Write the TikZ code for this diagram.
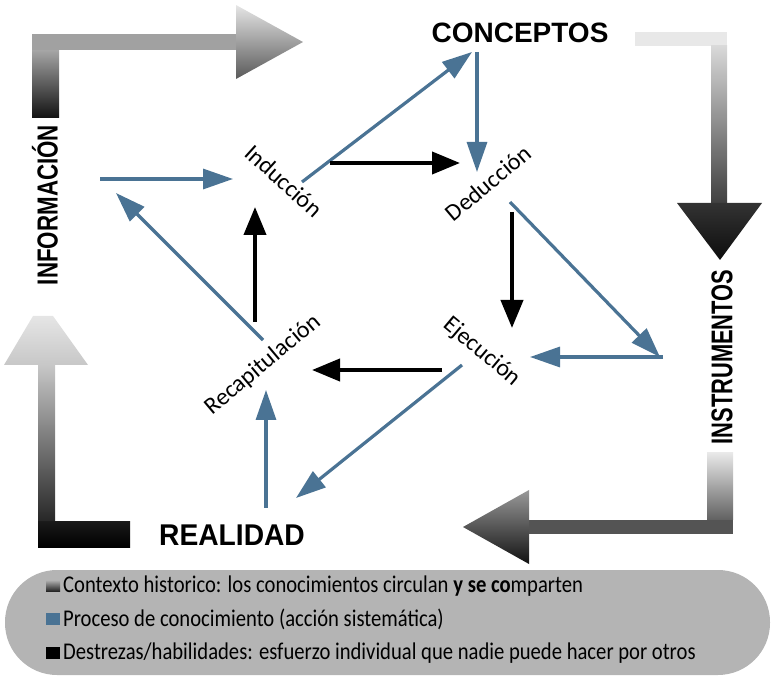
\documentclass[tikz,border=0pt]{standalone}
\usepackage{fontspec}
\setmainfont{Carlito}
\newfontfamily\heavy{Liberation Sans}
\newfontfamily\legfont[FakeStretch=0.86]{Carlito}
\usetikzlibrary{arrows.meta}
\definecolor{proc}{HTML}{4A7394}
\definecolor{legendgray}{HTML}{B4B4B4}
\newcommand{\bigword}[3]{\scalebox{#2}[1]{\fontsize{#1}{#1}\selectfont\heavy\bfseries #3}}
\begin{document}
\begin{tikzpicture}[x=1pt,y=-1pt,
  bigword/.style={inner sep=0pt},
  stage/.style={font=\fontsize{24}{24}\selectfont, inner sep=0pt},
  procarrow/.style={draw=proc, line width=3.2pt, -{Triangle[length=30pt,width=20pt]}},
  skillarrow/.style={draw=black, line width=4pt, -{Triangle[length=28pt,width=22pt]}},
  legtext/.style={font=\legfont\fontsize{24}{24}\selectfont, anchor=west, inner sep=0pt},
]
\useasboundingbox (0,0) rectangle (772,676);

% ---------- grey elbow arrows (context) ----------
% top-left: INFORMACION -> CONCEPTOS
\shade[top color=black!35, bottom color=black!93] (32,50) rectangle (59,118);
\fill[black!37] (32,34) rectangle (236,50);
\shade[top color=black!10, bottom color=black!65] (236,5) -- (303,42) -- (236,79) -- cycle;
% top-right: CONCEPTOS -> INSTRUMENTOS
\fill[black!9] (635,32) rectangle (727,46);
\shade[top color=black!15, bottom color=black!75] (711,46) rectangle (727,203);
\shade[top color=black!80, bottom color=black!95] (677,203) -- (762,203) -- (720,260) -- cycle;
% bottom-right: INSTRUMENTOS -> REALIDAD
\shade[top color=black!9, bottom color=black!62] (707,453) rectangle (733,520);
\fill[black!67] (529,520) rectangle (733,534);
\shade[top color=black!40, bottom color=black!93] (529,490) -- (463,527) -- (529,564) -- cycle;
% bottom-left: REALIDAD -> INFORMACION
\shade[top color=black!22, bottom color=black!85] (38,365) rectangle (55,522);
\shade[top color=black!90, bottom color=black] (38,522) rectangle (130,547);
\shade[top color=black!10, bottom color=black!22] (33,316) -- (53,316) -- (88,365) -- (4,365) -- cycle;

% ---------- big words ----------
\node[bigword] (concepts) at (520,33) {\bigword{28}{1.0}{CONCEPTOS}};
\node[bigword, rotate=90] (info) at (45,205) {\bigword{29}{0.77}{INFORMACIÓN}};
\node[bigword, rotate=90] (instr) at (722,357) {\bigword{30}{0.73}{INSTRUMENTOS}};
\node[bigword] (real) at (232,535) {\bigword{30}{0.94}{REALIDAD}};

% ---------- stages ----------
\node[stage, rotate=-42] (ind) at (284,181) {Inducción};
\node[stage, rotate=40] (ded) at (488,183) {Deducción};
\node[stage, rotate=-40] (eje) at (482,352) {Ejecución};
\node[stage, rotate=40] (rec) at (263,365) {Recapitulación};

% ---------- connector end points ----------
\coordinate (infoA) at (100,179);  \coordinate (indIn) at (233,179);
\coordinate (recB) at (263,340);   \coordinate (infoB) at (116,193);
\coordinate (indC) at (302,182);   \coordinate (concA) at (472,52);
\coordinate (concB) at (477,52);   \coordinate (dedIn) at (477,172);
\coordinate (dedA) at (510,202);   \coordinate (instrA) at (660,357);
\coordinate (instrB) at (663,357); \coordinate (ejeIn) at (530,357);
\coordinate (ejeA) at (462,365);   \coordinate (realA) at (296,498);
\coordinate (realB) at (266,508);  \coordinate (recIn) at (266,390);

\coordinate (indD) at (330,163);   \coordinate (dedInB) at (460,163);
\coordinate (dedE) at (512,212);   \coordinate (ejeInB) at (512,328);
\coordinate (ejeR) at (442,370);   \coordinate (recInB) at (312,370);
\coordinate (recI) at (255,322);   \coordinate (indInB) at (255,207);

% ---------- process (blue) ----------
\draw[procarrow] (infoA) -- (indIn);
\draw[procarrow] (recB) -- (infoB);
\draw[procarrow] (indC) -- (concA);
\draw[procarrow] (concB) -- (dedIn);
\draw[procarrow] (dedA) -- (instrA);
\draw[procarrow] (instrB) -- (ejeIn);
\draw[procarrow] (ejeA) -- (realA);
\draw[procarrow] (realB) -- (recIn);

% ---------- skills (black) ----------
\draw[skillarrow] (indD) -- (dedInB);
\draw[skillarrow] (dedE) -- (ejeInB);
\draw[skillarrow] (ejeR) -- (recInB);
\draw[skillarrow] (recI) -- (indInB);

% ---------- legend ----------
\fill[legendgray, rounded corners=52pt] (5,570) rectangle (770,675);
\shade[top color=black!30, bottom color=black!85] (46,580) rectangle (60,591);
\fill[proc] (46,613) rectangle (60,625);
\fill[black] (46,647) rectangle (60,659);
\node[legtext] (leg1) at (63,586) {Contexto historico: los conocimientos circulan {\bfseries y se co}mparten};
\node[legtext] (leg2) at (63,619) {Proceso de conocimiento (acción sistemática)};
\node[legtext] (leg3) at (63,653) {Destrezas/habilidades: esfuerzo individual que nadie puede hacer por otros};
\end{tikzpicture}
\end{document}
